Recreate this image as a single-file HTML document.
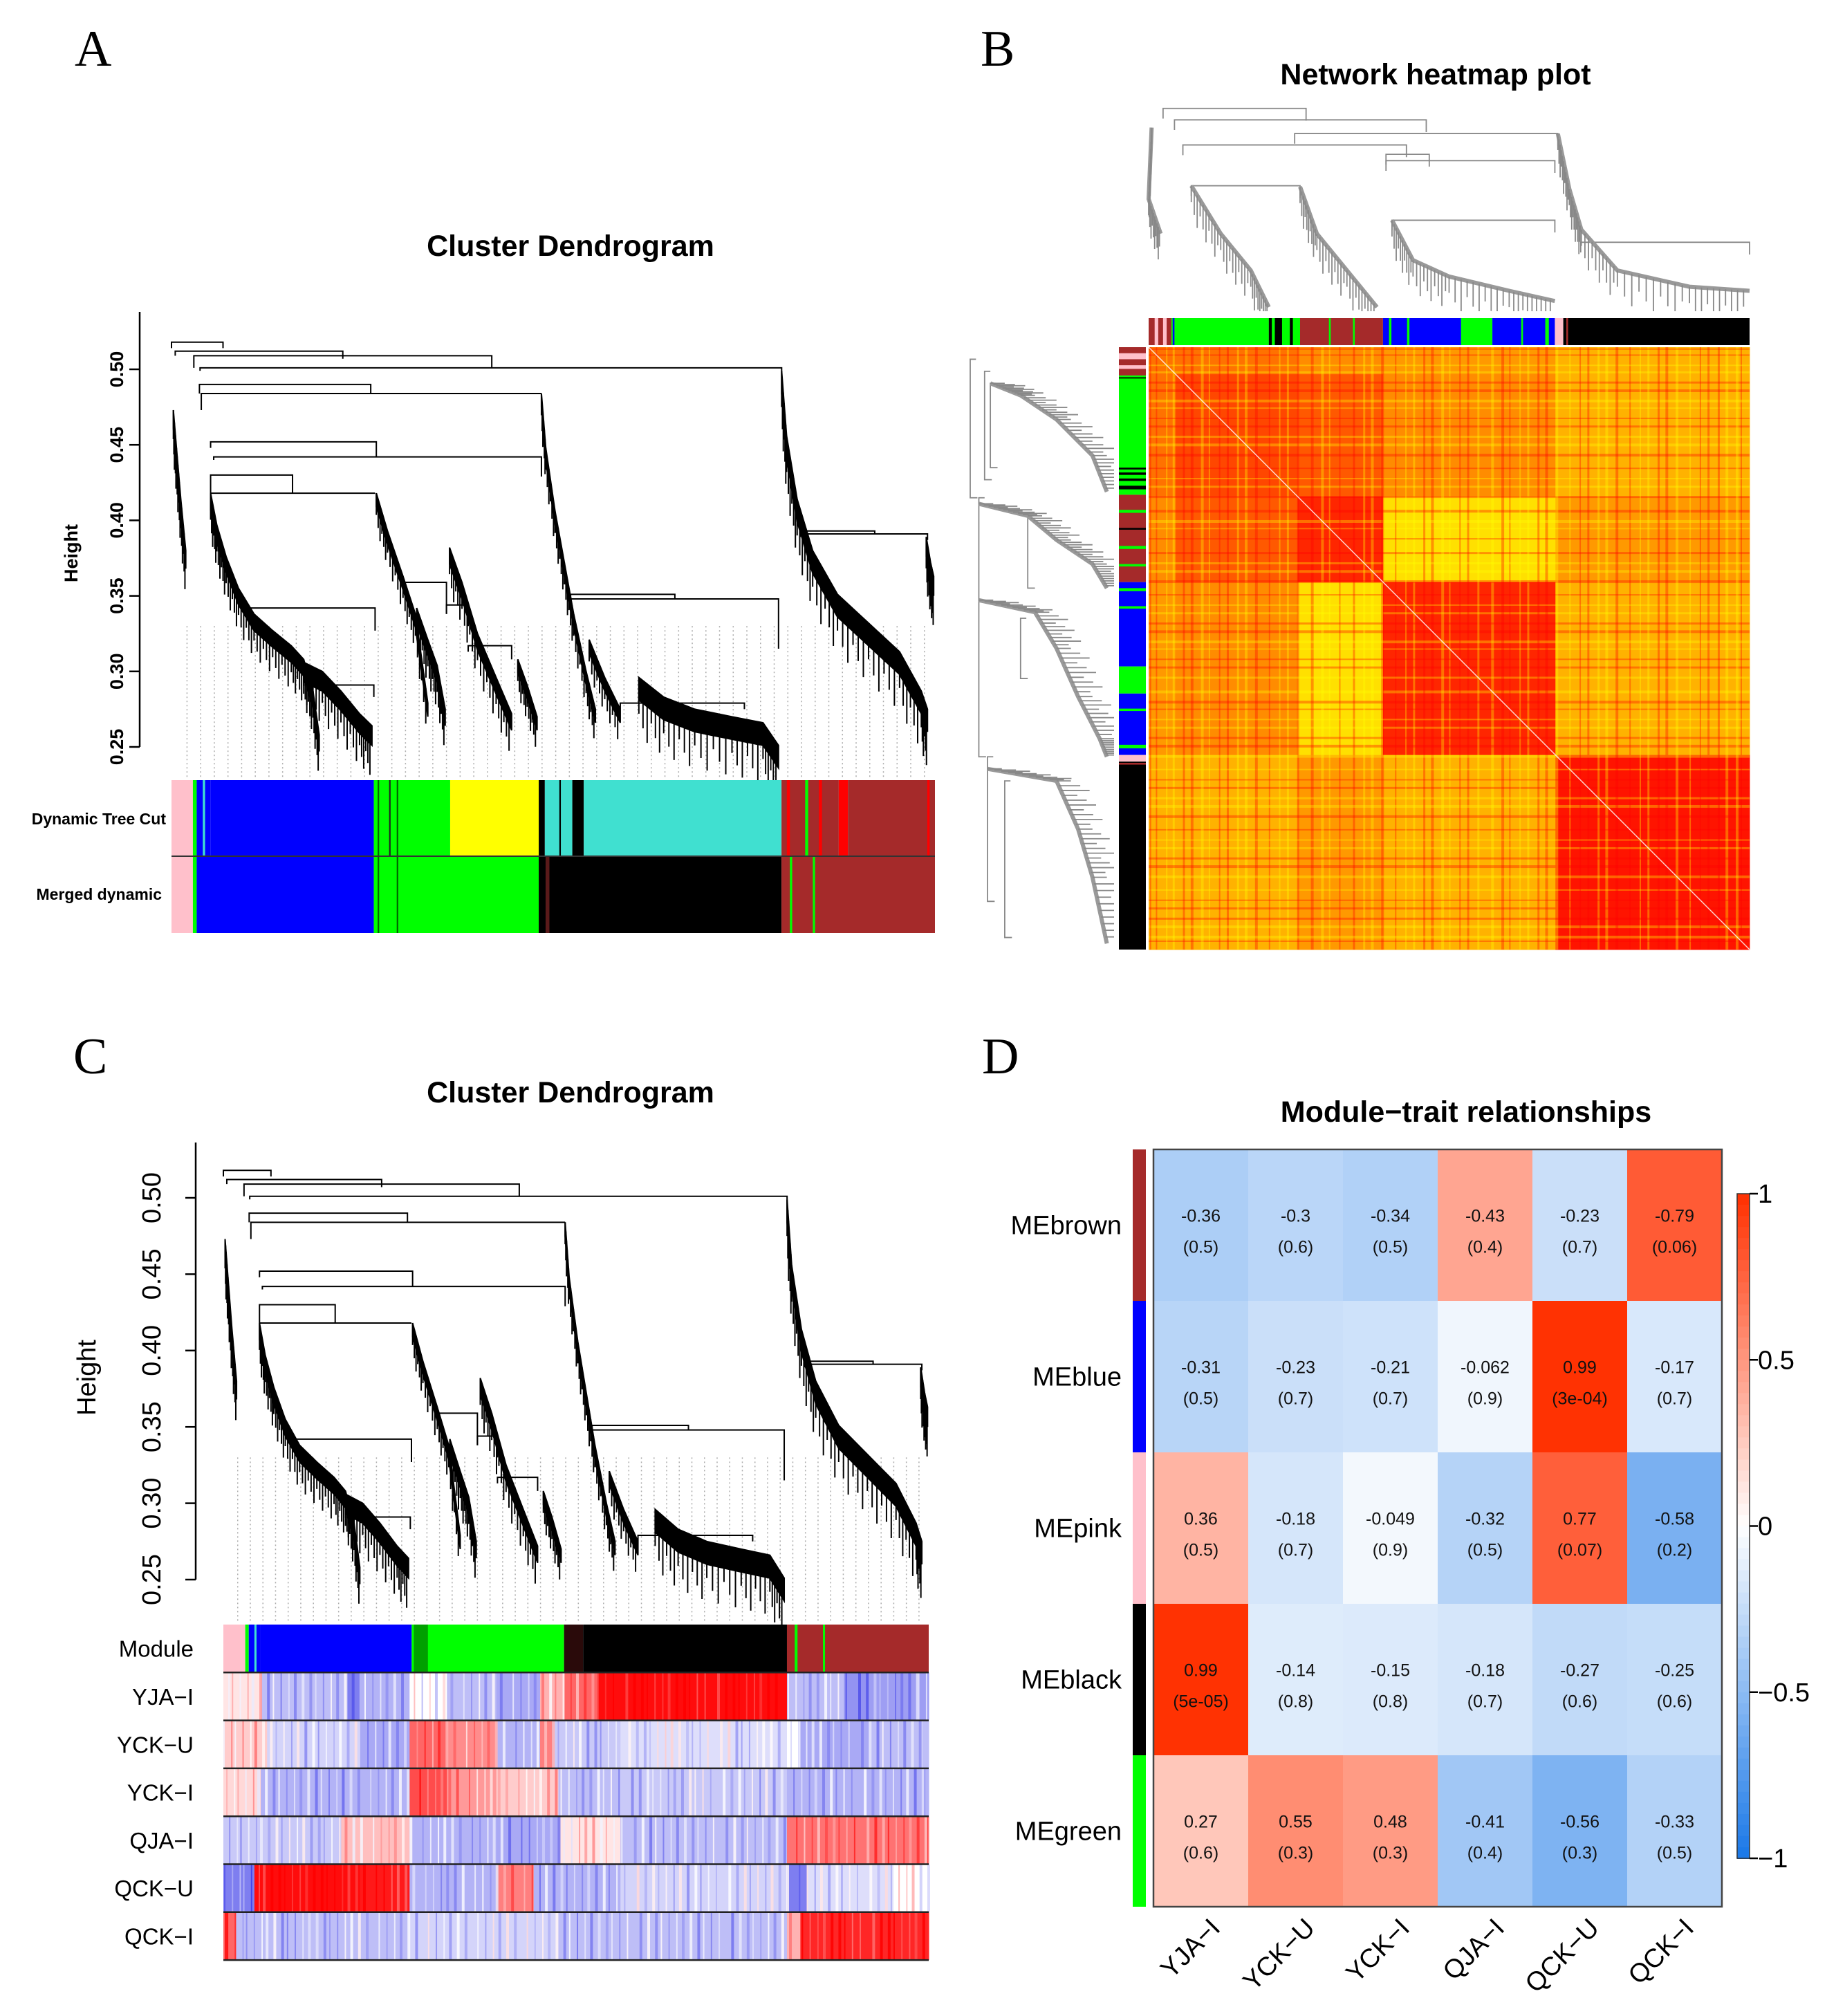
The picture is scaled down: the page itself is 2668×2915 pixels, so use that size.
<!DOCTYPE html>
<html><head><meta charset="utf-8"><style>
html,body{margin:0;padding:0;background:#fff}
svg{display:block}
text{font-family:"Liberation Sans",Arial,sans-serif}
.pl{font-family:"Liberation Serif",serif;font-size:74px}
</style></head><body>
<svg id="fig" xmlns="http://www.w3.org/2000/svg" width="2668" height="2915" viewBox="0 0 2668 2915">
<rect width="2668" height="2915" fill="#fff"/>
<text class="pl" x="108" y="95">A</text>
<text class="pl" x="1418" y="95">B</text>
<text class="pl" x="106" y="1552">C</text>
<text class="pl" x="1420" y="1552">D</text>
<text x="825" y="370" font-size="43" font-weight="bold" text-anchor="middle">Cluster Dendrogram</text>
<text x="2076" y="122" font-size="43" font-weight="bold" text-anchor="middle">Network heatmap plot</text>
<text x="825" y="1594" font-size="43" font-weight="bold" text-anchor="middle">Cluster Dendrogram</text>
<text x="2120" y="1622" font-size="43" font-weight="bold" text-anchor="middle">Module−trait relationships</text>
<g id="gA"></g>
<g id="gB"></g>
<g id="gC"></g>
<g id="gD"></g>
</svg>
<script>
// ---------- data: dendrogram (leaf index out of 1230, height) ----------
const leafCount = 1230;
const merges = [[0,83,.518,.514,.514],[6,276,.512,.509,.507],[36,516,.509,.501,.501],[46,983,.501,.499,.499],[45,321,.490,.484,.484],[48,596,.484,.473,.484],[63,330,.452,.448,.442],[68,596,.442,.440,.429],[63,195,.430,.418,.418],[63,328,.418,.418,.418],[1013,1218,.391,.389,.387],[123,328,.342,.338,.327],[240,326,.291,.287,.283],[373,443,.359,.355,.338],[443,478,.344,.338,.330],[478,548,.317,.313,.308],[643,811,.351,.348,.348],[643,978,.348,.344,.315],[723,923,.279,.275,.275],[1013,1133,.393,.391,.391]];
const spines = [
 {d:.012,p:[[3,.473],[8,.448],[15,.414],[23,.380]]},
 {d:.011,p:[[63,.418],[73,.397],[88,.376],[108,.355],[133,.338],[163,.327],[193,.317],[213,.308],[228,.287],[238,.258]]},
 {d:.013,p:[[213,.306],[243,.300],[273,.287],[303,.272],[323,.264]]},
 {d:.009,p:[[330,.418],[348,.393],[373,.363],[393,.338],[413,.279]]},
 {d:.011,p:[[395,.342],[413,.321],[428,.304],[441,.275]]},
 {d:.011,p:[[448,.382],[468,.359],[493,.325],[523,.296],[548,.272]]},
 {d:.009,p:[[558,.308],[573,.291],[589,.270]]},
 {d:.009,p:[[596,.484],[603,.448],[618,.406],[633,.372],[648,.338],[668,.300],[683,.275]]},
 {d:.009,p:[[673,.321],[698,.296],[723,.275]]},
 {d:.015,p:[[753,.296],[793,.283],[843,.275],[903,.270],[953,.266],[978,.251]]},
 {d:.015,p:[[983,.499],[991,.456],[1008,.414],[1033,.380],[1073,.351],[1123,.332],[1173,.313],[1208,.287],[1218,.275]]},
 {d:.013,p:[[1216,.389],[1223,.372],[1228,.363]]}];
const yTicks = [0.25,0.30,0.35,0.40,0.45,0.50];
const dynSegs = [[0,.028,'#ffc0cb'],[.028,.033,'#00ff00'],[.033,.051,'#0000ff'],[.041,.044,'#40e0d0'],[.051,.265,'#0000ff'],[.265,.365,'#00ff00'],[.27,.272,'#006400'],[.285,.287,'#222'],[.295,.297,'#006400'],[.365,.481,'#ffff00'],[.481,.489,'#000'],[.489,.525,'#40e0d0'],[.508,.51,'#000'],[.525,.540,'#000'],[.540,.799,'#40e0d0'],[.799,.874,'#a52a2a'],[.806,.81,'#ff0000'],[.83,.834,'#00ff00'],[.848,.852,'#ff0000'],[.874,.886,'#ff0000'],[.886,1,'#a52a2a'],[.99,.993,'#ff0000']];
const mergedSegs = [[0,.028,'#ffc0cb'],[.028,.033,'#00ff00'],[.033,.265,'#0000ff'],[.265,.481,'#00ff00'],[.27,.272,'#006400'],[.295,.297,'#006400'],[.481,.799,'#000'],[.49,.495,'#5a1a1a'],[.799,1,'#a52a2a'],[.81,.813,'#00ff00'],[.84,.843,'#00ff00']];
const moduleSegsC = [[0,.031,'#ffc0cb'],[.031,.036,'#00ff00'],[.036,.052,'#0000ff'],[.044,.047,'#40e0d0'],[.052,.267,'#0000ff'],[.267,.483,'#00ff00'],[.27,.29,'#00a000'],[.483,.51,'#2a0a0a'],[.51,.799,'#000'],[.799,1,'#a52a2a'],[.81,.814,'#00ff00'],[.85,.853,'#00ff00']];
const traitNames = ['YJA−I','YCK−U','YCK−I','QJA−I','QCK−U','QCK−I'];
const traitRows = [
 [[.053,.1],[.176,-.3],[.193,-.6],[.264,-.35],[.317,0],[.387,-.3],[.449,-.4],[.484,.3],[.532,.6],[.799,.95],[.88,-.3],[.915,-.5],[1,-.45]],
 [[.062,.2],[.194,-.2],[.264,-.4],[.317,.6],[.387,.45],[.449,-.35],[.466,.5],[.563,-.25],[.799,-.15],[.818,0],[.915,-.4],[1,-.3]],
 [[.053,.15],[.264,-.35],[.317,.7],[.387,.4],[.475,.2],[.563,-.3],[.799,-.25],[1,-.35]],
 [[.167,-.25],[.264,.25],[.387,-.35],[.475,-.4],[.563,.1],[.799,-.3],[1,.55]],
 [[.044,-.6],[.194,.95],[.264,.9],[.387,-.35],[.44,.5],[.563,-.35],[.799,-.2],[.827,-.6],[.95,-.15],[1,0]],
 [[.018,.6],[.264,-.3],[.475,-.2],[.799,-.3],[.818,.3],[1,.85]]];
const stripeFr = [.012,.04,.07,.1,.13,.16,.2,.23,.27,.3,.34,.37,.41,.44,.47,.5,.53,.57,.6,.63,.66,.7,.73,.76,.8,.83,.86,.9,.93,.96,.985];
const stripeAmp = [.15,-.12,.2,-.18,.1,-.15,.22,-.1,.18,-.2,.12,-.16,.2,-.1,.15,-.22,.1,-.14,.2,-.12,.16,-.18,.12,-.1,.2,-.15,.14,-.2,.1,-.12,.18];
const hmBounds = [0,.045,.248,.39,.677,1];
const hmVals = [[.55,.55,.45,.4,.3],[.55,.72,.65,.45,.3],[.45,.65,.85,.12,.4],[.4,.45,.12,.85,.3],[.3,.3,.4,.3,.92]];
const topBarB = [[0,.038,'#a52a2a'],[.01,.016,'#ffc0cb'],[.024,.03,'#ffc0cb'],[.038,.2,'#00ff00'],[.04,.043,'#0000ff'],[.2,.252,'#00ff00'],[.2,.205,'#000'],[.21,.222,'#000'],[.235,.24,'#000'],[.252,.39,'#a52a2a'],[.3,.303,'#00ff00'],[.34,.343,'#00ff00'],[.39,.52,'#0000ff'],[.4,.404,'#00ff00'],[.43,.434,'#00ff00'],[.52,.572,'#00ff00'],[.572,.676,'#0000ff'],[.62,.623,'#00ff00'],[.66,.666,'#00ff00'],[.676,.69,'#ffc0cb'],[.69,1,'#000'],[.695,.698,'#a52a2a']];
const leftBarB = [[0,.047,'#a52a2a'],[.01,.02,'#ffc0cb'],[.03,.036,'#ffc0cb'],[.047,.245,'#00ff00'],[.05,.052,'#000'],[.2,.203,'#000'],[.208,.212,'#000'],[.218,.222,'#000'],[.23,.236,'#000'],[.245,.39,'#a52a2a'],[.27,.275,'#00ff00'],[.3,.303,'#000'],[.33,.335,'#00ff00'],[.36,.364,'#00ff00'],[.39,.53,'#0000ff'],[.4,.405,'#00ff00'],[.43,.434,'#00ff00'],[.53,.575,'#00ff00'],[.575,.677,'#0000ff'],[.6,.604,'#00ff00'],[.66,.666,'#00ff00'],[.677,.688,'#ffc0cb'],[.688,1,'#000'],[.69,.693,'#a52a2a']];
const topMerges = [[.024,.262,.006],[.043,.462,.062],[.243,.681,.129],[.057,.429,.185],[.395,.467,.231],[.395,.676,.262],[.071,.252,.385],[.405,.676,.554],[.719,1,.662]];
const topSpines = [[[.005,.1],[.0,.45],[.02,.62]],[[.071,.385],[.12,.62],[.17,.8],[.2,.98]],[[.252,.39],[.28,.62],[.33,.8],[.38,.98]],[[.405,.554],[.44,.75],[.5,.83],[.6,.9],[.676,.95]],[[.681,.13],[.7,.4],[.72,.6],[.78,.8],[.9,.88],[1,.9]]];
const leftMerges = [[.0,.02,.25],[.06,.25,.68],[.1,.04,.22],[.14,.06,.2],[.12,.68,.92],[.24,.72,.98],[.4,.28,.4],[.35,.45,.55]];
const leftSpines = [[[.14,.06],[.35,.08],[.6,.12],[.85,.18],[.95,.24]],[[.06,.26],[.4,.28],[.6,.32],[.85,.36],[.95,.4]],[[.06,.42],[.45,.44],[.6,.5],[.75,.58],[.9,.65],[.95,.68]],[[.12,.7],[.6,.72],[.75,.8],[.85,.88],[.95,.99]]];
const modules = ['MEbrown','MEblue','MEpink','MEblack','MEgreen'];
const moduleColors = ['#a52a2a','#0000ff','#ffc0cb','#000000','#00ff00'];
const traits = ['YJA−I','YCK−U','YCK−I','QJA−I','QCK−U','QCK−I'];
const corVals = [[-0.36,-0.3,-0.34,0.43,-0.23,0.79],[-0.31,-0.23,-0.21,-0.062,0.99,-0.17],[0.36,-0.18,-0.049,-0.32,0.77,-0.58],[0.99,-0.14,-0.15,-0.18,-0.27,-0.25],[0.27,0.55,0.48,-0.41,-0.56,-0.33]];
const corText = [['-0.36','-0.3','-0.34','-0.43','-0.23','-0.79'],['-0.31','-0.23','-0.21','-0.062','0.99','-0.17'],['0.36','-0.18','-0.049','-0.32','0.77','-0.58'],['0.99','-0.14','-0.15','-0.18','-0.27','-0.25'],['0.27','0.55','0.48','-0.41','-0.56','-0.33']];
const pText = [['0.5','0.6','0.5','0.4','0.7','0.06'],['0.5','0.7','0.7','0.9','3e-04','0.7'],['0.5','0.7','0.9','0.5','0.07','0.2'],['5e-05','0.8','0.8','0.7','0.6','0.6'],['0.6','0.3','0.3','0.4','0.3','0.5']];
const cbTicks = [1,0.5,0,-0.5,-1];
const cbLabels = ['1','0.5','0','−0.5','−1'];

const NS='http://www.w3.org/2000/svg';
function el(tag,attrs,parent){const e=document.createElementNS(NS,tag);for(const k in attrs)e.setAttribute(k,attrs[k]);parent.appendChild(e);return e;}
function bwr(v){v=Math.max(-1,Math.min(1,v));let r,g,b;if(v<0){const t=-v;r=255-t*229;g=255-t*135;b=255-t*23;}else{r=255;g=255-v*207;b=255-v*255;}return `rgb(${r|0},${g|0},${b|0})`;}
function bwrC(v){v=Math.max(-1,Math.min(1,v));let r,g,b;if(v<0){const t=-v;r=255-t*215;g=255-t*215;b=255-t*25;}else{r=255;g=255-v*255;b=255-v*255;}return `rgb(${r|0},${g|0},${b|0})`;}
function ry(v){v=Math.max(0,Math.min(1,v));return `rgb(255,${(255*(1-v))|0},0)`;}

function drawDendro(g,X,Y,barTop,lw,nm){
  const dg=el('g',{},g);
  
  
  for(let L=25;L<leafCount;L+=22){
    el('line',{x1:X(L),x2:X(L),y1:Y(0.33),y2:barTop,stroke:'#aaa','stroke-width':1.5,'stroke-dasharray':'2,4'},dg);
  }
  merges.forEach(m=>{
    const p=el('path',{d:`M${X(m[0])},${Y(m[3])}V${Y(m[2])}H${X(m[1])}V${Y(m[4])}`,fill:'none',stroke:'#000','stroke-width':lw},g);
    
    
  });
  spines.forEach(s=>{
    const top=s.p.map(q=>`${X(q[0])},${Y(q[1])}`);
    const bot=s.p.slice().reverse().map(q=>`${X(q[0])},${Y(q[1]-s.d)}`);
    const poly=el('polygon',{points:top.concat(bot).join(' '),fill:'#000',stroke:'#000','stroke-width':2},g);
    
    
    for(let i=0;i<s.p.length-1;i++){
      const a=s.p[i],b=s.p[i+1];
      for(let k=0;k<6;k++){const t=k/6;const L=a[0]+(b[0]-a[0])*t,h=a[1]+(b[1]-a[1])*t;
        el('line',{x1:X(L),x2:X(L),y1:Y(h),y2:Y(h-s.d*(1.6+(k%3)*0.5)),stroke:'#000','stroke-width':2},g);}
    }
  });
}
function segBar(g,segs,x0,w,y,h,nm){
  segs.forEach(s=>{const r=el('rect',{x:x0+s[0]*w,y:y,width:Math.max(1,(s[1]-s[0])*w),height:h,fill:s[2]},g);
    
    });
}
function yAxis(g,ax,Y,top,bold,fs,lx,nm){
  const a=el('line',{x1:ax,x2:ax,y1:top,y2:Y(0.25),stroke:'#000','stroke-width':2.5},g);
  
  
  yTicks.forEach(t=>{
    el('line',{x1:ax-15,x2:ax,y1:Y(t),y2:Y(t),stroke:'#000','stroke-width':2.5},g);
    const tx=el('text',{x:lx,y:Y(t),'font-size':fs,'font-weight':bold?'bold':'normal','text-anchor':'middle',transform:`rotate(-90 ${lx} ${Y(t)})`},g);
    tx.textContent=t.toFixed(2);
    
    
  });
}

// ---------- Panel A ----------
(function(){
  const g=document.getElementById('gA');
  const bx=248,bw=1104;
  const X=L=>bx+L/leafCount*bw, Y=h=>534+(0.50-h)/0.05*109.2;
  yAxis(g,202,Y,451,true,27,178,'a');
  const hl=el('text',{x:112,y:800,'font-size':27,'font-weight':'bold','text-anchor':'middle',transform:'rotate(-90 112 800)'},g);
  hl.textContent='Height';
  
  
  drawDendro(g,X,Y,1126,2,'a-dendrogram');
  segBar(g,dynSegs,bx,bw,1128,110,'a-dynamic-tree-cut-segment');
  segBar(g,mergedSegs,bx,bw,1238,111,'a-merged-dynamic-segment');
  el('line',{x1:bx,x2:bx+bw,y1:1238,y2:1238,stroke:'#333','stroke-width':2},g);
  const t1=el('text',{x:240,y:1192,'font-size':23,'font-weight':'bold','text-anchor':'end'},g);t1.textContent='Dynamic Tree Cut';
  
  
  const t2=el('text',{x:234,y:1301,'font-size':23,'font-weight':'bold','text-anchor':'end'},g);t2.textContent='Merged dynamic';
  
  
})();

// ---------- Panel C ----------
(function(){
  const g=document.getElementById('gC');
  const bx=323,bw=1020;
  const X=L=>bx+L/leafCount*bw, Y=h=>1732+(0.50-h)/0.05*110.4;
  yAxis(g,283,Y,1652,false,38,232,'c');
  const hl=el('text',{x:138,y:1992,'font-size':38,'text-anchor':'middle',transform:'rotate(-90 138 1992)'},g);
  hl.textContent='Height';
  
  
  drawDendro(g,X,Y,2347,2,'c-dendrogram');
  const rh=69.3,top=2349;
  segBar(g,moduleSegsC,bx,bw,top,rh,'c-module-segment');
  const ml=el('text',{x:280,y:top+rh/2+12,'font-size':33,'text-anchor':'end'},g);ml.textContent='Module';
  
  
  traitRows.forEach((row,i)=>{
    const y=top+rh*(i+1);
    let s=0;
    row.forEach(sg=>{
      const r=el('rect',{x:bx+s*bw,y:y,width:(sg[0]-s)*bw+0.5,height:rh,fill:bwrC(sg[1])},g);
      
      
      s=sg[0];
    });
    for(let m=0;m<3;m++){
      stripeFr.forEach((f0,k)=>{
        const f=(f0+m*0.011+i*0.004)%1;
        let v=0;for(const sg of row){if(f<=sg[0]){v=sg[1];break;}}
        const a=stripeAmp[(k+i*5+m*7)%stripeAmp.length]*1.6;
        el('rect',{x:bx+f*bw,y:y,width:2+(k%2)*2,height:rh,fill:bwrC(v+a),opacity:.85},g);
      });
    }
    const lb=el('text',{x:280,y:y+rh/2+12,'font-size':33,'text-anchor':'end'},g);lb.textContent=traitNames[i];
    
    
    el('line',{x1:bx,x2:bx+bw,y1:y,y2:y,stroke:'#222','stroke-width':2.5},g);
  });
  el('line',{x1:bx,x2:bx+bw,y1:top+rh*7,y2:top+rh*7,stroke:'#222','stroke-width':2.5},g);
})();

// ---------- Panel B ----------
(function(){
  const g=document.getElementById('gB');
  const hx=1661,hy=502,W=869,H=871;
  for(let i=0;i<5;i++)for(let j=0;j<5;j++){
    const r=el('rect',{x:hx+hmBounds[j]*W,y:hy+hmBounds[i]*H,width:(hmBounds[j+1]-hmBounds[j])*W+0.5,height:(hmBounds[i+1]-hmBounds[i])*H+0.5,fill:ry(hmVals[i][j])},g);
    
    
  }
  for(let m=0;m<2;m++){
    stripeFr.forEach((f0,k)=>{
      const f=(f0+m*0.017)%1;
      const a=stripeAmp[(k+m*3)%stripeAmp.length];const col=a>0?'rgba(255,0,0,0.35)':'rgba(255,255,0,0.35)';const w=2+(k%3);
      el('rect',{x:hx+f*W,y:hy,width:w,height:H,fill:col},g);
      el('rect',{x:hx,y:hy+f*H,width:W,height:w,fill:col},g);
    });
  }
  const dl=el('line',{x1:hx,y1:hy,x2:hx+W,y2:hy+H,stroke:'#fff','stroke-width':1.5,opacity:.8},g);
  
  
  segBar(g,topBarB,hx,W,460,39,'b-top-module-bar');
  const lg=el('g',{},g);
  
  
  leftBarB.forEach(s=>{el('rect',{x:1618,y:hy+s[0]*H,width:39,height:Math.max(1,(s[1]-s[0])*H),fill:s[2]},lg);});
  const TX=f=>hx+f*W, TY=v=>155+v*295;
  const tg=el('g',{stroke:'#888',fill:'none','stroke-width':1.8},g);
  
  
  topMerges.forEach(m=>{el('path',{d:`M${TX(m[0])},${TY(m[2]+.05)}V${TY(m[2])}H${TX(m[1])}V${TY(m[2]+.06)}`},tg);});
  topSpines.forEach(s=>{
    el('polyline',{points:s.map(q=>`${TX(q[0])},${TY(q[1])}`).join(' '),'stroke-width':6,stroke:'#999'},tg);
    for(let i=0;i<s.length-1;i++)for(let k=0;k<10;k++){const t=k/10;const f=s[i][0]+(s[i+1][0]-s[i][0])*t,v=s[i][1]+(s[i+1][1]-s[i][1])*t;
      el('line',{x1:TX(f),x2:TX(f),y1:TY(v),y2:Math.min(TY(1),TY(v+0.08+(k%3)*0.04))},tg);}
  });
  const LX=u=>1403+u*208, LY=f=>hy+f*H;
  const lgd=el('g',{stroke:'#888',fill:'none','stroke-width':1.8},g);
  
  
  leftMerges.forEach(m=>{el('path',{d:`M${LX(m[0]+.04)},${LY(m[1])}H${LX(m[0])}V${LY(m[2])}H${LX(m[0]+.05)}`},lgd);});
  leftSpines.forEach(s=>{
    el('polyline',{points:s.map(q=>`${LX(q[0])},${LY(q[1])}`).join(' '),'stroke-width':6,stroke:'#999'},lgd);
    for(let i=0;i<s.length-1;i++)for(let k=0;k<10;k++){const t=k/10;const u=s[i][0]+(s[i+1][0]-s[i][0])*t,f=s[i][1]+(s[i+1][1]-s[i][1])*t;
      el('line',{x1:LX(u),x2:Math.min(LX(1),LX(u+0.1+(k%3)*0.05)),y1:LY(f),y2:LY(f)},lgd);}
  });
})();

// ---------- Panel D ----------
(function(){
  const g=document.getElementById('gD');
  const hx=1668,hy=1662,cw=137,rh=219;
  corVals.forEach((row,i)=>{
    row.forEach((v,j)=>{
      const r=el('rect',{x:hx+j*cw,y:hy+i*rh,width:cw+0.5,height:rh+0.5,fill:bwr(v)},g);
      
      
      const cx=hx+j*cw+cw/2, cy=hy+i*rh+rh/2;
      const t1=el('text',{x:cx,y:cy-5,'font-size':25,'text-anchor':'middle',fill:'#111'},g);t1.textContent=corText[i][j];
      
      
      const t2=el('text',{x:cx,y:cy+40,'font-size':25,'text-anchor':'middle',fill:'#111'},g);t2.textContent='('+pText[i][j]+')';
      
      
    });
    const s=el('rect',{x:1638,y:hy+i*rh,width:19,height:rh,fill:moduleColors[i]},g);
    
    
    const lb=el('text',{x:1622,y:hy+i*rh+rh/2+13,'font-size':38,'text-anchor':'end'},g);lb.textContent=modules[i];
    
    
  });
  const bd=el('rect',{x:hx,y:hy,width:cw*6,height:rh*5,fill:'none',stroke:'#444','stroke-width':2.5},g);
  
  
  traits.forEach((t,j)=>{
    const x=hx+j*cw+cw/2+30, y=2790;
    const tx=el('text',{x:x,y:y,'font-size':38,'text-anchor':'end',transform:`rotate(-45 ${x} ${y})`},g);tx.textContent=t;
    
    
  });
  const cx=2512,ct=1726,cb=2687;
  const CY=v=>ct+(1-v)/2*(cb-ct);
  for(let k=0;k<60;k++){const v=1-k/60*2;el('rect',{x:cx,y:CY(v),width:18,height:(cb-ct)/60+1,fill:bwr(v-1/60)},g);}
  const cbo=el('rect',{x:cx,y:ct,width:18,height:cb-ct,fill:'none',stroke:'#333','stroke-width':1.5},g);
  
  
  cbTicks.forEach((v,k)=>{
    el('line',{x1:cx+18,x2:cx+30,y1:CY(v),y2:CY(v),stroke:'#000','stroke-width':2.5},g);
    const t=el('text',{x:cx+30,y:CY(v)+13,'font-size':38},g);t.textContent=cbLabels[k];
    
    
  });
})();
</script>
</body></html>
